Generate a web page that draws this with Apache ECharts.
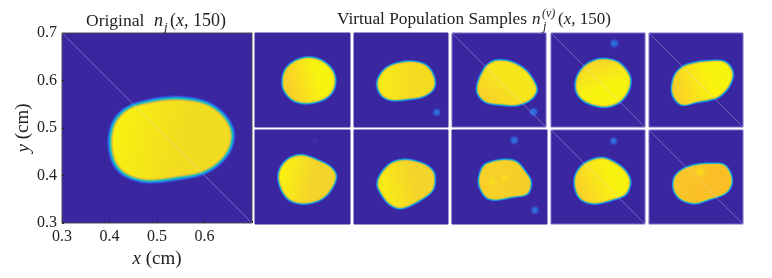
<!DOCTYPE html>
<html><head><meta charset="utf-8">
<style>html,body{margin:0;padding:0;background:#fff}#c{width:772px;height:278px}</style>
<script src="https://cdn.jsdelivr.net/npm/echarts@6/dist/echarts.min.js"></script>
</head><body><div id="c"></div>
<script>
// Blob outlines (x cm, y cm)
const original = [[.534,.562],[.5835,.5575],[.6186,.544],[.6467,.5175],[.6586,.486],[.650,.451],[.6256,.423],[.5905,.404],[.5414,.3947],[.4993,.389],[.4642,.3905],[.429,.405],[.408,.433],[.4018,.4754],[.4116,.514],[.4397,.542],[.4853,.556]];
const sample1 = [[.524,.594],[.58,.580],[.622,.543],[.636,.497],[.622,.448],[.58,.416],[.517,.403],[.461,.416],[.426,.455],[.418,.497],[.430,.543],[.468,.578]];
const sample2 = [[.524,.576],[.588,.569],[.624,.541],[.642,.494],[.631,.456],[.588,.430],[.524,.420],[.460,.416],[.418,.437],[.401,.480],[.414,.522],[.453,.558]];
const sample3 = [[.490,.581],[.547,.576],[.605,.546],[.643,.500],[.658,.457],[.633,.418],[.576,.395],[.512,.397],[.447,.407],[.412,.443],[.412,.486],[.433,.536],[.454,.564]];
const sample4 = [[.510,.587],[.575,.578],[.617,.543],[.636,.500],[.625,.450],[.589,.407],[.532,.388],[.467,.400],[.424,.428],[.407,.471],[.417,.521],[.453,.564]];
const sample5 = [[.533,.577],[.605,.580],[.640,.560],[.655,.520],[.636,.470],[.597,.431],[.555,.417],[.504,.408],[.447,.395],[.412,.420],[.399,.463],[.412,.520],[.447,.556],[.490,.570]];
const sample6 = [[.496,.591],[.552,.574],[.615,.542],[.639,.500],[.615,.443],[.573,.405],[.510,.389],[.454,.400],[.419,.436],[.401,.493],[.412,.542],[.447,.578]];
const sample7 = [[.517,.571],[.581,.559],[.624,.535],[.641,.500],[.631,.443],[.574,.400],[.503,.369],[.453,.386],[.418,.429],[.402,.471],[.418,.514],[.460,.557]];
const sample8 = [[.530,.571],[.572,.561],[.607,.521],[.630,.478],[.614,.429],[.551,.417],[.481,.405],[.439,.422],[.415,.478],[.432,.542],[.474,.564]];
const sample9 = [[.515,.579],[.575,.557],[.617,.521],[.635,.478],[.617,.429],[.567,.407],[.489,.389],[.432,.405],[.406,.450],[.407,.507],[.446,.557]];
const sample10 = [[.497,.549],[.569,.555],[.619,.549],[.647,.507],[.647,.464],[.619,.429],[.555,.407],[.497,.390],[.440,.405],[.409,.443],[.409,.493],[.440,.528]];
const outlines = [original,sample1,sample2,sample3,sample4,sample5,sample6,sample7,sample8,sample9,sample10];

// Satellite spots: x, y, strength
const spots = [[],[],[[.652,.362,.85]],[[.647,.365,1]],[[.569,.656,1]],[],[[.553,.653,.25]],[],[[.562,.656,1],[.649,.359,.9]],[[.566,.653,.8]],[]];
// Brighter patches inside a blob: x, y
const hotSpots = [[],[],[],[],[],[],[],[],[[.470,.480],[.520,.495]],[],[[.519,.523]]];
// Panels crossed by the faint diagonal
const diagonal = [[.3,.7],[.7,.3]];
const hasDiagonal = [1,0,0,1,1,1,0,0,0,1,1];

const tickValues = ['0.3','0.4','0.5','0.6','0.7'];
const xTickLabels = ['0.3','0.4','0.5','0.6',''];

// Panel rectangles in the page
const rects = [[62,33,190,190],[255,33,95,94],[354,33,94,94],[452,33,94,94],[551,33,94,94],[649,33,94,94],
               [255,130,95,94],[354,130,94,94],[452,130,95,94],[551,130,94,94],[649,130,94,94]];
// Interior shading: gradient direction and end colours
const fills = [[0,0,1,.3,'#f8f40e','#f2dc20'],[0,.3,1,0,'#fbcf2a','#f7f510'],[0,0,1,0,'#f8ec18','#f6dc20'],[0,1,.7,0,'#fbcb2b','#f6e61c'],
  [.3,0,.6,1,'#f5d628','#f8f410'],[0,.6,1,.2,'#fcd02a','#f8f40e'],[0,.2,1,.4,'#f9f510','#f4d42a'],[0,.5,1,.2,'#f9ee14','#f4d42a'],
  [0,0,1,0,'#f8d028','#f6d028'],[0,.7,1,.2,'#fbd02b','#f8f210'],[0,0,1,.6,'#fbc82a','#fabf26']];
const rampColors = ['#382fae','#3545c8','#2f64e4','#2188e2','#18a8d6','#22bcb8','#58c68a','#a8c858','#e8bf3c','#fbc62b'];
const BG = '#3a269f';
const FONT = 'Liberation Serif';

function shrink(pts, d){
  let cx=0, cy=0; pts.forEach(p=>{cx+=p[0];cy+=p[1];}); cx/=pts.length; cy/=pts.length;
  return pts.map(p=>{const dx=cx-p[0],dy=cy-p[1],l=Math.hypot(dx,dy);return [p[0]+dx/l*d,p[1]+dy/l*d];});
}
// Closed Catmull-Rom drawing of an outline's pixel positions
function rounded(pts){
  const out=[],n=pts.length;
  for(let i=0;i<n;i++){
    const a=pts[(i-1+n)%n],b=pts[i],c=pts[(i+1)%n],d=pts[(i+2)%n];
    for(let k=0;k<6;k++){
      const t=k/6,t2=t*t,t3=t2*t;
      out.push([0,1].map(j=>.5*(2*b[j]+(c[j]-a[j])*t+(2*a[j]-5*b[j]+4*c[j]-d[j])*t2+(3*b[j]-a[j]-3*c[j]+d[j])*t3)));
    }
  }
  return out;
}
function blobRenderer(idx){
  const outer = idx===0 ? -3.6 : -2.4, inner = idx===0 ? 2.2 : 0.5;
  return function(params, api){
    if(params.dataIndex!==0) return null;
    const pts = outlines[idx].map(p=>api.coord(p));
    const children=[];
    const n=rampColors.length;
    rampColors.forEach((col,i)=>{
      const d=outer+(inner-outer)*i/(n-1);
      children.push({type:'polygon',shape:{points:rounded(shrink(pts,d))},style:{fill:col}});
    });
    const f=fills[idx];
    children.push({type:'polygon',shape:{points:rounded(shrink(pts,inner+.5))},
      style:{fill:{type:'linear',x:f[0],y:f[1],x2:f[2],y2:f[3],colorStops:[{offset:0,color:f[4]},{offset:.62,color:f[5]},{offset:1,color:f[5]}]}}});
    return {type:'group',children};
  };
}
const grid=[],xAxis=[],yAxis=[],series=[];
rects.forEach((r,i)=>{
  const big=i===0, framed=hasDiagonal[i]===1 && !big;
  grid.push({left:r[0],top:r[1],width:r[2],height:r[3],show:true,backgroundColor:BG,
    borderColor:big?'#4a4a55':(framed?'#7a6cc4':BG),borderWidth:1});
  const common={type:'value',min:.3,max:.7,interval:.1,gridIndex:i,splitLine:{show:false},show:big,
    axisLine:{show:false},axisTick:{inside:true,length:2,lineStyle:{color:'#222'}}};
  const nameRich={i:{fontFamily:FONT,fontStyle:'italic',fontSize:19,color:'#222'}};
  xAxis.push(Object.assign({},common,{
    axisLabel:{fontFamily:FONT,fontSize:16,color:'#222',margin:6,showMaxLabel:true,
      formatter:v=>xTickLabels[tickValues.indexOf(v.toFixed(1))]},
    name:'{i|x} (cm)',nameLocation:'middle',nameGap:24,
    nameTextStyle:{fontFamily:FONT,fontSize:19,color:'#222',rich:nameRich}}));
  yAxis.push(Object.assign({},common,{
    axisLabel:{fontFamily:FONT,fontSize:16,color:'#222',margin:5,formatter:v=>v.toFixed(1)},
    name:'{i|y} (cm)',nameLocation:'middle',nameGap:29,
    nameTextStyle:{fontFamily:FONT,fontSize:19,color:'#222',rich:nameRich}}));
  series.push({type:'custom',xAxisIndex:i,yAxisIndex:i,renderItem:blobRenderer(i),data:outlines[i],encode:{x:0,y:1},silent:true,clip:true,z:2});
  if(hotSpots[i].length) series.push({type:'scatter',xAxisIndex:i,yAxisIndex:i,data:hotSpots[i],symbolSize:i===8?14:16,silent:true,z:3,
    itemStyle:{color:{type:'radial',x:.5,y:.5,r:.5,colorStops:[{offset:0,color:'rgba(248,240,20,.9)'},{offset:1,color:'rgba(250,205,40,0)'}]}}});
  if(spots[i].length) series.push({type:'scatter',xAxisIndex:i,yAxisIndex:i,data:spots[i],silent:true,z:3,
    symbolSize:d=>6+6*d[2],
    itemStyle:{color:p=>{const a=p.data[2];return {type:'radial',x:.5,y:.5,r:.5,colorStops:[
      {offset:0,color:a<.5?'#3f38b8':'#2f86ee'},{offset:.45,color:a<.5?'#3c30ac':'#2d6fe8'},{offset:1,color:'rgba(58,38,159,0)'}]};}}});
  if(hasDiagonal[i]) series.push({type:'line',xAxisIndex:i,yAxisIndex:i,data:diagonal,showSymbol:false,silent:true,z:4,
    lineStyle:{color:'rgba(225,220,250,.32)',width:1}});
});
const ital={fontFamily:FONT,fontStyle:'italic',color:'#222',fontWeight:'normal'};
const mathRich={i:{fontFamily:FONT,fontStyle:'italic',fontSize:18,color:'#222'}};
const mathRich2={i:{fontFamily:FONT,fontStyle:'italic',fontSize:17,color:'#222'}};
const plain={fontFamily:FONT,color:'#222',fontWeight:'normal'};
const title=[
 {text:'Original',left:86,top:12,padding:0,textStyle:Object.assign({fontSize:17.5},plain)},
 {text:'n',left:154,top:12,padding:0,textStyle:Object.assign({fontSize:18},ital)},
 {text:'j',left:164,top:21,padding:0,textStyle:Object.assign({fontSize:13},ital)},
 {text:'({i|x}, 150)',left:170,top:12,padding:0,textStyle:Object.assign({fontSize:18,rich:mathRich},plain)},
 {text:'Virtual Population Samples',left:337,top:11,padding:0,textStyle:Object.assign({fontSize:17.3},plain)},
 {text:'n',left:532,top:11,padding:0,textStyle:Object.assign({fontSize:17},ital)},
 {text:'j',left:543,top:21,padding:0,textStyle:Object.assign({fontSize:12},ital)},
 {text:'(v)',left:542,top:8,padding:0,textStyle:Object.assign({fontSize:12},ital)},
 {text:'({i|x}, 150)',left:558,top:11,padding:0,textStyle:Object.assign({fontSize:17,rich:mathRich2},plain)}
];
const chart=echarts.init(document.getElementById('c'),null,{renderer:'canvas'});
chart.setOption({animation:false,backgroundColor:'#fff',title,grid,xAxis,yAxis,series});
</script></body></html>
